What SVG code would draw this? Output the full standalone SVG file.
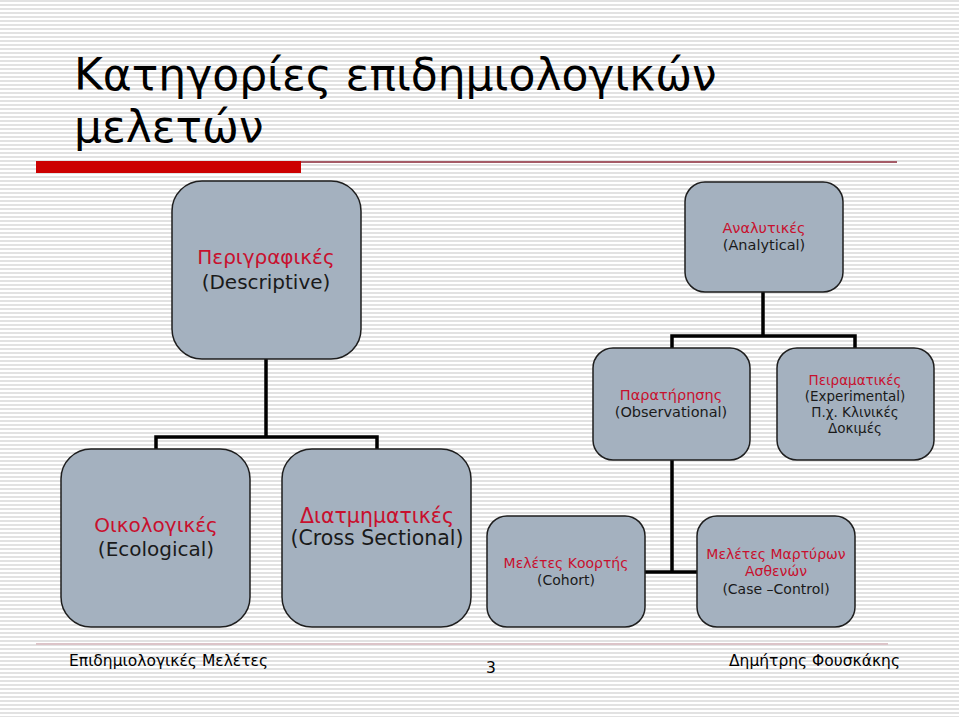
<svg xmlns="http://www.w3.org/2000/svg" width="959" height="717" viewBox="0 0 959 717">
<defs>
<pattern id="stripes" x="0" y="0" width="8" height="4" patternUnits="userSpaceOnUse">
<rect x="0" y="0" width="8" height="4" fill="#ffffff"/>
<rect x="0" y="0" width="8" height="2" fill="#e2e2e2"/>
</pattern>
</defs>
<style>
.box{fill:#a4b1bf;stroke:#1e1e1e;stroke-width:1.5}
.t{font-family:"DejaVu Sans","Noto Sans",sans-serif;text-anchor:middle;fill:#1a1a1a}
.r{fill:#c8102e}
.c{fill:none;stroke:#000;stroke-width:3.5}
.title{font-family:"DejaVu Sans","Noto Sans",sans-serif;font-size:44px;fill:#000}
.foot{font-family:"DejaVu Sans","Noto Sans",sans-serif;font-size:15.5px;fill:#000}
</style>
<rect width="959" height="717" fill="url(#stripes)"/>
<g id="title">
<text class="title" x="74" y="90">Κατηγορίες επιδημιολογικών</text>
<text class="title" x="74" y="142">μελετών</text>
<rect x="36" y="161" width="265" height="12" fill="#cc0000"/>
<rect x="301" y="161" width="596" height="2" fill="#a45a66"/>
</g>
<g id="connectors">
<polyline class="c" points="266,359 266,437"/>
<polyline class="c" points="156,449 156,437 377,437 377,449"/>
<polyline class="c" points="763,292 763,336"/>
<polyline class="c" points="672,348 672,336 855,336 855,348"/>
<polyline class="c" points="672,460 672,572"/>
<polyline class="c" points="645,572 697,572"/>
</g>
<g id="descriptive">
<rect class="box" x="172" y="181" width="189" height="178" rx="30"/>
<text class="t" x="266" y="264" font-size="20"><tspan class="r">Περιγραφικές</tspan></text>
<text class="t" x="266" y="289" font-size="20">(Descriptive)</text>
</g>
<g id="analytical">
<rect class="box" x="685" y="182" width="158" height="110" rx="20"/>
<text class="t" x="764" y="233" font-size="14.5"><tspan class="r">Αναλυτικές</tspan></text>
<text class="t" x="764" y="250" font-size="14.5">(Analytical)</text>
</g>
<g id="observational">
<rect class="box" x="593" y="348" width="157" height="112" rx="20"/>
<text class="t" x="671" y="400" font-size="14.5"><tspan class="r">Παρατήρησης</tspan></text>
<text class="t" x="671" y="417" font-size="14.5">(Observational)</text>
</g>
<g id="experimental">
<rect class="box" x="777" y="348" width="157" height="112" rx="20"/>
<text class="t" x="855" y="385" font-size="13.5"><tspan class="r">Πειραματικές</tspan></text>
<text class="t" x="855" y="401" font-size="13.5">(Experimental)</text>
<text class="t" x="855" y="417" font-size="13.5">Π.χ. Κλινικές</text>
<text class="t" x="855" y="433" font-size="13.5">Δοκιμές</text>
</g>
<g id="ecological">
<rect class="box" x="61" y="449" width="189" height="178" rx="30"/>
<text class="t" x="156" y="532" font-size="20"><tspan class="r">Οικολογικές</tspan></text>
<text class="t" x="156" y="556" font-size="20">(Ecological)</text>
</g>
<g id="crosssectional">
<rect class="box" x="282" y="449" width="189" height="178" rx="30"/>
<text class="t" x="377" y="523" font-size="20.5"><tspan class="r">Διατμηματικές</tspan></text>
<text class="t" x="377" y="545" font-size="20.5">(Cross Sectional)</text>
</g>
<g id="cohort">
<rect class="box" x="487" y="516" width="158" height="111" rx="20"/>
<text class="t" x="566" y="568" font-size="14"><tspan class="r">Μελέτες Κοορτής</tspan></text>
<text class="t" x="566" y="585" font-size="14">(Cohort)</text>
</g>
<g id="casecontrol">
<rect class="box" x="697" y="516" width="158" height="111" rx="20"/>
<text class="t" x="776" y="559" font-size="14"><tspan class="r">Μελέτες Μαρτύρων</tspan></text>
<text class="t" x="776" y="576" font-size="14"><tspan class="r">Ασθενών</tspan></text>
<text class="t" x="776" y="594" font-size="14">(Case –Control)</text>
</g>
<g id="footer">
<rect x="36" y="643" width="852" height="2" fill="#dcc4c8"/>
<text class="foot" x="69" y="666">Επιδημιολογικές Μελέτες</text>
<text class="foot" x="491" y="673" text-anchor="middle">3</text>
<text class="foot" x="900" y="666" text-anchor="end">Δημήτρης Φουσκάκης</text>
</g>
</svg>
